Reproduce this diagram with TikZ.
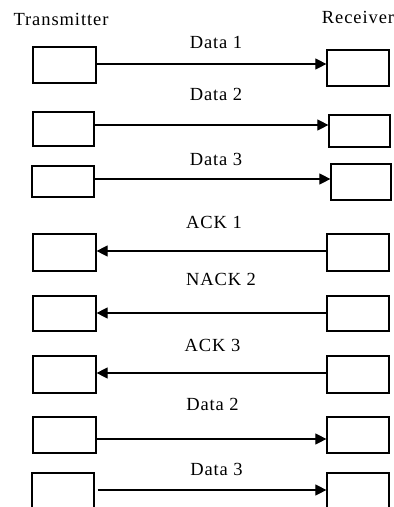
\documentclass[tikz,border=0pt]{standalone}
\usepackage{fontspec}
\setmainfont{Liberation Serif}
\newfontfamily\lblfont[LetterSpace=5]{Liberation Serif}
\usetikzlibrary{arrows.meta}
\begin{document}
\begin{tikzpicture}[x=1pt,y=-1pt,
  unit/.style={draw,line width=1.2pt,inner sep=0pt,minimum width=62pt,minimum height=36pt},
  msg/.style={line width=1.1pt,-{Triangle[length=11pt,width=11pt]}},
  lbl/.style={anchor=base,inner sep=0pt,font=\lblfont\fontsize{18.5}{21}\selectfont}]
\useasboundingbox (0,0) rectangle (394,507);
\clip (0,0) rectangle (394,507);

% end-point headings
\node[lbl] (tx) at (61,25) {Transmitter};
\node[lbl] (rx) at (358,23) {Receiver};

% transmitter-side frames
\node[unit,minimum width=63pt] (L1) at (64.5,65) {};
\node[unit,minimum width=61pt,minimum height=34pt] (L2) at (63.5,129) {};
\node[unit,minimum height=31pt] (L3) at (63,181.5) {};
\node[unit,minimum width=63pt,minimum height=37pt] (L4) at (64.5,252.5) {};
\node[unit,minimum width=63pt,minimum height=35pt] (L5) at (64.5,313.5) {};
\node[unit,minimum width=63pt,minimum height=37pt] (L6) at (64.5,374.5) {};
\node[unit,minimum width=63pt] (L7) at (64.5,435) {};
\node[unit,minimum height=38pt] (L8) at (63,492) {};

% receiver-side frames
\node[unit] (R1) at (358,68) {};
\node[unit,minimum width=61pt,minimum height=32pt] (R2) at (359.5,131) {};
\node[unit,minimum width=60pt] (R3) at (361,182) {};
\node[unit,minimum height=37pt] (R4) at (358,252.5) {};
\node[unit,minimum height=35pt] (R5) at (358,313.5) {};
\node[unit,minimum height=37pt] (R6) at (358,374.5) {};
\node[unit] (R7) at (358,435) {};
\node[unit,minimum height=38pt] (R8) at (358,492) {};

% message labels
\node[lbl] (m1) at (216,48) {Data 1};
\node[lbl] (m2) at (216,100) {Data 2};
\node[lbl] (m3) at (216,165) {Data 3};
\node[lbl] (m4) at (214,228) {ACK 1};
\node[lbl] (m5) at (221,285) {NACK 2};
\node[lbl] (m6) at (212.5,351) {ACK 3};
\node[lbl] (m7) at (212.5,410) {Data 2};
\node[lbl] (m8) at (216.5,475) {Data 3};

% messages
\draw[msg] (L1.east |- 0,64) -- (R1.west |- 0,64);
\draw[msg] (L2.east |- 0,125) -- (R2.west |- 0,125);
\draw[msg] (L3.east |- 0,179) -- (R3.west |- 0,179);
\draw[msg] (R4.west |- 0,251) -- (L4.east |- 0,251);
\draw[msg] (R5.west |- 0,313) -- (L5.east |- 0,313);
\draw[msg] (R6.west |- 0,373) -- (L6.east |- 0,373);
\draw[msg] (L7.east |- 0,439) -- (R7.west |- 0,439);
\draw[msg] ([xshift=3pt]L8.east |- 0,490) -- (R8.west |- 0,490);
\end{tikzpicture}
\end{document}
